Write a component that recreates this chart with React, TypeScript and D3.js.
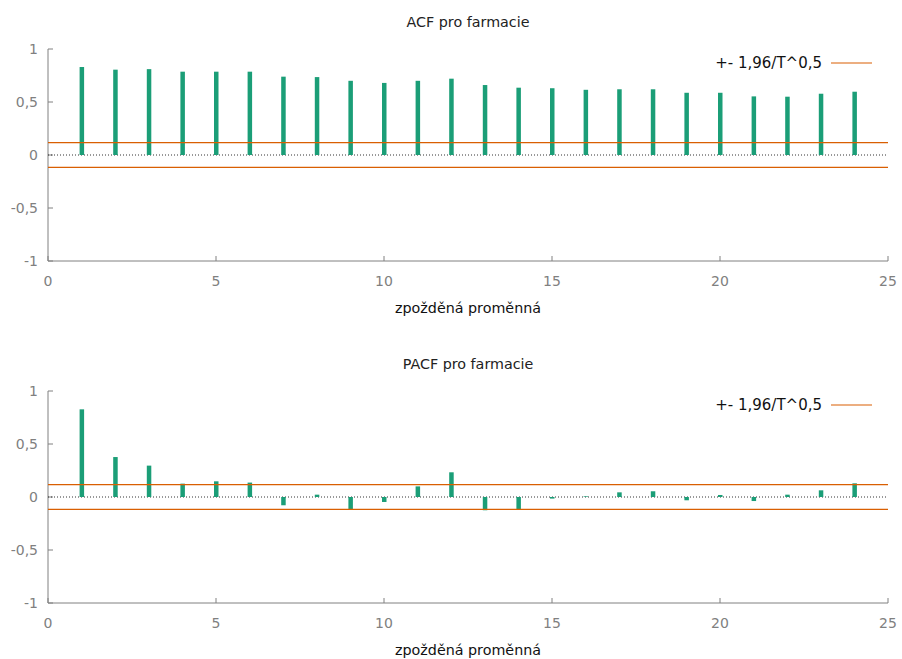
import React from "react";
import * as d3 from "d3";

const lags = d3.range(1, 25);
const acfValues = [
  0.83, 0.805, 0.81, 0.786, 0.786, 0.786, 0.739, 0.735, 0.7, 0.68, 0.7, 0.72,
  0.66, 0.635, 0.63, 0.615, 0.62, 0.62, 0.587, 0.587, 0.553, 0.55, 0.578, 0.597,
];
const pacfValues = [
  0.827, 0.377, 0.296, 0.126, 0.148, 0.136, -0.078, 0.022, -0.119, -0.047, 0.1,
  0.233, -0.125, -0.119, -0.015, 0.006, 0.044, 0.054, -0.031, 0.019, -0.038,
  0.022, 0.063, 0.129,
];
const confBand = 0.116; // 1,96/T^0,5
const xTicks = [0, 5, 10, 15, 20, 25];
const yTicks = [-1, -0.5, 0, 0.5, 1];
const panelTitles = ["ACF pro farmacie", "PACF pro farmacie"];
const xLabel = "zpožděná proměnná";
const legendLabel = "+- 1,96/T^0,5";

const W = 902;
const H = 659;
const FONT = "DejaVu Sans, Verdana, sans-serif";
const GREEN = "#1b9e77";
const ORANGE = "#d95f02";
const AXIS = "#808080";

const fmt = (v: number) => String(v).replace(".", ",");

const Panel = ({ values, title, top }: { values: number[]; title: string; top: number }) => {
  const x = d3.scaleLinear().domain([0, 25]).range([48, 888]);
  const y = d3.scaleLinear().domain([-1, 1]).range([top + 212, top]);
  const [x0, x1] = x.range();

  return (
    <g>
      <text x={468} y={top - 22} textAnchor="middle" fontSize={14.3} fill="#222">
        {title}
      </text>

      {/* axes */}
      <line x1={x0} x2={x0} y1={y(1)} y2={y(-1)} stroke={AXIS} />
      <line x1={x0} x2={x1} y1={y(-1)} y2={y(-1)} stroke={AXIS} />
      {yTicks.map((t) => (
        <g key={"y" + t}>
          <line x1={x0} x2={x0 + 5} y1={y(t)} y2={y(t)} stroke={AXIS} />
          <text x={38} y={y(t) + 5} textAnchor="end" fontSize={14} fill={AXIS}>
            {fmt(t)}
          </text>
        </g>
      ))}
      {xTicks.map((t) => (
        <g key={"x" + t}>
          <line x1={x(t)} x2={x(t)} y1={y(-1)} y2={y(-1) - 5} stroke={AXIS} />
          <text x={x(t)} y={y(-1) + 25} textAnchor="middle" fontSize={14} fill={AXIS}>
            {t}
          </text>
        </g>
      ))}

      {/* zero line */}
      <line
        x1={x0}
        x2={x1}
        y1={y(0)}
        y2={y(0)}
        stroke="#333"
        strokeWidth={1}
        strokeDasharray="1,2"
      />

      {/* bars */}
      {values.map((v, i) => (
        <rect
          key={i}
          x={x(lags[i]) - 2}
          y={Math.min(y(v), y(0))}
          width={4.5}
          height={Math.abs(y(v) - y(0))}
          fill={GREEN}
        />
      ))}

      {/* confidence band */}
      {[confBand, -confBand].map((c) => (
        <line key={c} x1={x0} x2={x1} y1={y(c)} y2={y(c)} stroke={ORANGE} strokeWidth={1.2} />
      ))}

      {/* legend */}
      <text x={822} y={top + 19} textAnchor="end" fontSize={15} fill="#111">
        {legendLabel}
      </text>
      <line x1={831} x2={872} y1={top + 14} y2={top + 14} stroke={ORANGE} strokeWidth={1.2} />

      <text x={468} y={y(-1) + 52} textAnchor="middle" fontSize={14.3} fill="#111">
        {xLabel}
      </text>
    </g>
  );
};

export default function App() {
  return (
    <div style={{ position: "absolute", left: 0, top: 0 }}>
      <svg width={W} height={H} style={{ display: "block", fontFamily: FONT }}>
        <rect width={W} height={H} fill="#fff" />
        <Panel values={acfValues} title={panelTitles[0]} top={49} />
        <Panel values={pacfValues} title={panelTitles[1]} top={391} />
      </svg>
    </div>
  );
}
